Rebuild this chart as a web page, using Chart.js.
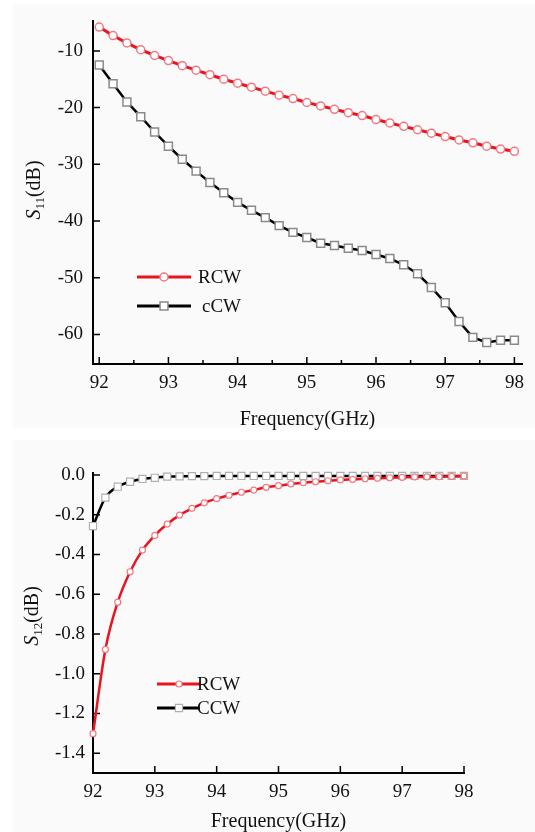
<!DOCTYPE html>
<html>
<head>
<meta charset="utf-8">
<script src="https://cdn.jsdelivr.net/npm/chart.js@4.4.1/dist/chart.umd.min.js"></script>
<style>
    html, body { margin: 0; padding: 0; background: #fff; }
    #wrap { position: relative; width: 535px; height: 832px; overflow: hidden; }
    .panel { position: absolute; background: #fafafa; }
    #p1 { left: 13px; top: 4px; width: 522px; height: 424px; }
    #p2 { left: 13px; top: 440px; width: 522px; height: 392px; }
    .box { position: absolute; left: 0; width: 535px; }
    #b1 { top: 0; height: 430px; }
    #b2 { top: 430px; height: 402px; }
</style>
</head>
<body>
<div id="wrap">
    <div class="panel" id="p1"></div>
    <div class="panel" id="p2"></div>
    <div class="box" id="b1"><canvas id="graficoS11"></canvas></div>
    <div class="box" id="b2"><canvas id="graficoS12"></canvas></div>
</div>
<script>
// frequências (GHz)
const frequencias = [92.0, 92.2, 92.4, 92.6, 92.8, 93.0, 93.2, 93.4, 93.6, 93.8,
    94.0, 94.2, 94.4, 94.6, 94.8, 95.0, 95.2, 95.4, 95.6, 95.8,
    96.0, 96.2, 96.4, 96.6, 96.8, 97.0, 97.2, 97.4, 97.6, 97.8, 98.0];

// S11 (dB)
const rcwS11 = [-5.8, -7.3, -8.6, -9.8, -10.8, -11.7, -12.6, -13.4, -14.2, -15.0,
    -15.7, -16.4, -17.1, -17.8, -18.4, -19.1, -19.7, -20.3, -20.9, -21.4,
    -22.1, -22.7, -23.3, -23.9, -24.5, -25.1, -25.7, -26.2, -26.8, -27.3, -27.7];
const ccwS11 = [-12.5, -15.8, -19.0, -21.6, -24.3, -26.8, -29.1, -31.2, -33.2, -35.0,
    -36.7, -38.1, -39.4, -40.8, -42.0, -42.9, -43.9, -44.3, -44.8, -45.2,
    -45.9, -46.6, -47.7, -49.3, -51.7, -54.4, -57.7, -60.5, -61.4, -61.0, -61.0];

// S12 (dB)
const rcwS12 = [-1.302, -0.878, -0.640, -0.487, -0.378, -0.304, -0.247, -0.202, -0.168, -0.140,
    -0.119, -0.102, -0.087, -0.076, -0.062, -0.054, -0.045, -0.039, -0.034, -0.029,
    -0.025, -0.022, -0.019, -0.017, -0.014, -0.012, -0.010, -0.010, -0.009, -0.007, -0.005];
const ccwS12 = [-0.257, -0.114, -0.059, -0.034, -0.020, -0.014, -0.008, -0.007, -0.006, -0.006,
    -0.005, -0.005, -0.005, -0.005, -0.005, -0.005, -0.005, -0.005, -0.005, -0.005,
    -0.005, -0.005, -0.005, -0.005, -0.005, -0.005, -0.005, -0.005, -0.005, -0.005, -0.005];

// ticks
const xTicks = [92, 93, 94, 95, 96, 97, 98];
const xMinorS11 = [92.5, 93.5, 94.5, 95.5, 96.5, 97.5];
const yTicksS11 = [-10, -20, -30, -40, -50, -60];
const yTicksS12 = [0, -0.2, -0.4, -0.6, -0.8, -1.0, -1.2, -1.4];

const SERIF = "'Liberation Serif', 'Times New Roman', serif";

function pontos(xs, ys) {
    return xs.map((x, i) => ({ x: x, y: ys[i] }));
}

// ticks para dentro
const ticksInternos = {
    id: "ticksInternos",
    beforeDatasetsDraw(chart, args, opts) {
        const { ctx, chartArea: a, scales: { x, y } } = chart;
        ctx.save();
        ctx.strokeStyle = "#000";
        ctx.lineWidth = 1.5;
        ctx.beginPath();
        x.ticks.forEach(t => {
            const px = x.getPixelForValue(t.value);
            ctx.moveTo(px, a.bottom);
            ctx.lineTo(px, a.bottom - 7);
        });
        (opts.minorX || []).forEach(v => {
            const px = x.getPixelForValue(v);
            ctx.moveTo(px, a.bottom);
            ctx.lineTo(px, a.bottom - 4);
        });
        y.ticks.forEach(t => {
            const py = y.getPixelForValue(t.value);
            ctx.moveTo(a.left, py);
            ctx.lineTo(a.left + 7, py);
        });
        ctx.stroke();
        ctx.restore();
    }
};

// legenda dentro do gráfico
const legendaInterna = {
    id: "legendaInterna",
    afterDraw(chart, args, opts) {
        const ctx = chart.ctx;
        ctx.save();
        chart.data.datasets.forEach((ds, i) => {
            const y = opts.ys[i];
            ctx.strokeStyle = ds.borderColor;
            ctx.lineWidth = 3;
            ctx.beginPath();
            ctx.moveTo(opts.x0, y);
            ctx.lineTo(opts.x1, y);
            ctx.stroke();
            const mx = opts.mx;
            ctx.fillStyle = ds.pointBackgroundColor;
            ctx.strokeStyle = ds.pointBorderColor;
            ctx.lineWidth = ds.pointBorderWidth;
            ctx.beginPath();
            if (ds.pointStyle === "rect") {
                const s = ds.pointRadius * Math.SQRT1_2;
                ctx.rect(mx - s, y - s, 2 * s, 2 * s);
            } else {
                ctx.arc(mx, y, ds.pointRadius, 0, Math.PI * 2);
            }
            ctx.fill();
            ctx.stroke();
            ctx.fillStyle = "#111";
            ctx.font = "19px " + SERIF;
            ctx.textBaseline = "middle";
            ctx.textAlign = "left";
            ctx.fillText(ds.label, opts.tx[i], y + 1);
        });
        ctx.restore();
    }
};

// título do eixo y com subscrito
const tituloY = {
    id: "tituloY",
    afterDraw(chart, args, opts) {
        const ctx = chart.ctx;
        ctx.save();
        ctx.translate(opts.x, opts.y);
        ctx.rotate(-Math.PI / 2);
        ctx.fillStyle = "#111";
        ctx.textBaseline = "alphabetic";
        ctx.textAlign = "left";
        const fS = "italic 20px " + SERIF, fSub = "13px " + SERIF, fN = "20px " + SERIF;
        ctx.font = fS; const wS = ctx.measureText("S").width;
        ctx.font = fSub; const wSub = ctx.measureText(opts.sub).width;
        ctx.font = fN; const wN = ctx.measureText("(dB)").width;
        let x = -(wS + wSub + wN) / 2;
        ctx.font = fS; ctx.fillText("S", x, 7); x += wS;
        ctx.font = fSub; ctx.fillText(opts.sub, x, 11); x += wSub;
        ctx.font = fN; ctx.fillText("(dB)", x, 7);
        ctx.restore();
    }
};

function escalas(xMin, xMax, yMin, yMax, yTicks, yFmt, yPad, xH) {
    return {
        x: {
            type: "linear",
            min: xMin,
            max: xMax,
            afterBuildTicks: s => { s.ticks = xTicks.map(v => ({ value: v })); },
            afterFit: s => { s.height = xH; },
            grid: { display: true, drawOnChartArea: false, drawTicks: false },
            border: { display: true, color: "#000", width: 2 },
            ticks: { color: "#111", font: { family: SERIF, size: 19 }, padding: 8, maxRotation: 0 },
            title: {
                display: true,
                text: "Frequency(GHz)",
                color: "#111",
                font: { family: SERIF, size: 20, lineHeight: 1 },
                padding: { top: 0, bottom: 0 }
            }
        },
        y: {
            type: "linear",
            min: yMin,
            max: yMax,
            afterBuildTicks: s => { s.ticks = yTicks.map(v => ({ value: v })); },
            afterFit: s => { s.width = 93; },
            grid: { display: true, drawOnChartArea: false, drawTicks: false },
            border: { display: true, color: "#000", width: 2 },
            ticks: { color: "#111", font: { family: SERIF, size: 19 }, padding: yPad, callback: yFmt }
        }
    };
}

new Chart(document.getElementById("graficoS11"), {
    type: "line",
    data: {
        datasets: [{
            label: "RCW",
            data: pontos(frequencias, rcwS11),
            borderColor: "#e8141e",
            borderWidth: 3,
            pointStyle: "circle",
            pointRadius: 4,
            pointBackgroundColor: "#ffffff",
            pointBorderColor: "#f07a84",
            pointBorderWidth: 1.5,
            clip: false
        }, {
            label: "cCW",
            data: pontos(frequencias, ccwS11),
            borderColor: "#000000",
            borderWidth: 2.5,
            pointStyle: "rect",
            pointRadius: 5.6,
            pointBackgroundColor: "#ffffff",
            pointBorderColor: "#8a8a8a",
            pointBorderWidth: 1.5,
            clip: false
        }]
    },
    options: {
        responsive: true,
        maintainAspectRatio: false,
        animation: false,
        layout: { padding: { left: 0, top: 15, right: 13, bottom: 0 } },
        scales: escalas(91.91, 98.11, -65.2, -4.8, yTicksS11, v => String(v), 10, 66),
        plugins: {
            legend: { display: false },
            tooltip: { enabled: false },
            ticksInternos: { minorX: xMinorS11 },
            legendaInterna: { x0: 137, x1: 191, mx: 164, ys: [277, 306], tx: [198, 202] },
            tituloY: { x: 33, y: 190, sub: "11" }
        }
    },
    plugins: [ticksInternos, legendaInterna, tituloY]
});

new Chart(document.getElementById("graficoS12"), {
    type: "line",
    data: {
        datasets: [{
            label: "RCW",
            data: pontos(frequencias, rcwS12),
            borderColor: "#e8141e",
            borderWidth: 2.5,
            cubicInterpolationMode: "monotone",
            pointStyle: "circle",
            pointRadius: 3,
            pointBackgroundColor: "#ffffff",
            pointBorderColor: "#f07a84",
            pointBorderWidth: 1.2,
            clip: false
        }, {
            label: "CCW",
            data: pontos(frequencias, ccwS12),
            borderColor: "#000000",
            borderWidth: 2.5,
            cubicInterpolationMode: "monotone",
            pointStyle: "rect",
            pointRadius: 5,
            pointBackgroundColor: "#ffffff",
            pointBorderColor: "#b0b0b0",
            pointBorderWidth: 1.2,
            clip: false
        }]
    },
    options: {
        responsive: true,
        maintainAspectRatio: false,
        animation: false,
        layout: { padding: { left: 0, top: 43, right: 71, bottom: 0 } },
        scales: escalas(92, 98, -1.5, 0.01, yTicksS12, v => v.toFixed(1), 8, 59),
        plugins: {
            legend: { display: false },
            tooltip: { enabled: false },
            ticksInternos: {},
            legendaInterna: { x0: 157, x1: 200, mx: 179, ys: [254, 278], tx: [197, 197] },
            tituloY: { x: 31, y: 186, sub: "12" }
        }
    },
    plugins: [ticksInternos, legendaInterna, tituloY]
});
</script>
</body>
</html>
